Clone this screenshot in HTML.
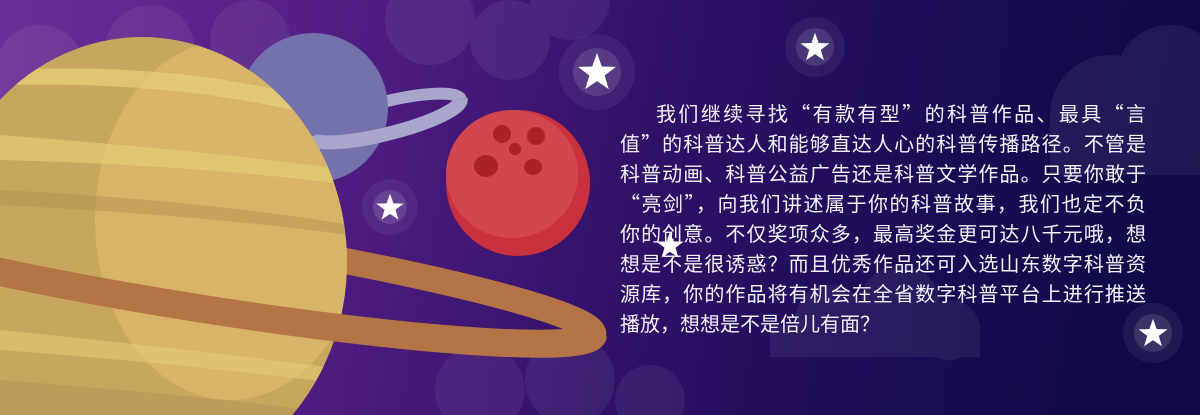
<!DOCTYPE html>
<html><head><meta charset="utf-8"><style>
html,body{margin:0;padding:0;overflow:hidden;width:1200px;height:415px;}
#scene{position:relative;width:1200px;height:415px;overflow:hidden;background:linear-gradient(100deg,#6d2f98 0%,#4e1c80 30%,#2e1066 55%,#170c52 80%,#0e0b45 100%);}
svg{position:absolute;left:0;top:0;}
#text{position:absolute;left:620px;top:98px;width:526px;font-family:"Noto Sans CJK SC","Liberation Sans",sans-serif;font-size:20px;color:#f4f2fa;}
.ln{height:30px;line-height:30px;text-align:justify;text-align-last:justify;white-space:nowrap;overflow:hidden;}
.ln.last{text-align-last:left;}
</style></head><body>
<div id="scene">
<svg width="1200" height="415" viewBox="0 0 1200 415">
  <g fill="#ffffff" opacity="0.06">
    <circle cx="40" cy="70" r="45"/><circle cx="150" cy="50" r="45"/><circle cx="250" cy="40" r="40"/><rect x="0" y="70" width="300" height="60"/>
    <circle cx="430" cy="20" r="45"/><circle cx="510" cy="40" r="40"/><circle cx="570" cy="0" r="40"/>
    <circle cx="1110" cy="115" r="60"/><circle cx="1170" cy="80" r="55"/><rect x="1050" y="110" width="150" height="65"/>
    <circle cx="830" cy="320" r="35"/><circle cx="900" cy="305" r="40"/><circle cx="950" cy="330" r="30"/><rect x="770" y="325" width="210" height="32"/>
    <circle cx="480" cy="390" r="45"/><circle cx="570" cy="380" r="45"/><circle cx="650" cy="400" r="35"/>
  </g>
  <g transform="rotate(-14 385 118)">
    <path d="M307,118 A78,16 0 0 1 463,118" fill="none" stroke="#a9a6cb" stroke-width="12"/>
  </g>
  <circle cx="313" cy="108" r="75" fill="#7472ad"/>
  <g transform="rotate(-14 385 118)">
    <path d="M307,118 A78,16 0 0 0 463,118" fill="none" stroke="#a9a6cb" stroke-width="14"/>
  </g>
  <g>
    <ellipse cx="518" cy="183" rx="72" ry="73" fill="#c9323c"/>
    <ellipse cx="512" cy="174" rx="66" ry="64" fill="#d2474f"/>
    <ellipse cx="502" cy="134" rx="9" ry="9" fill="#a8222a"/>
    <ellipse cx="536" cy="136" rx="9" ry="9" fill="#a8222a"/>
    <ellipse cx="515" cy="149" rx="6" ry="6" fill="#a8222a"/>
    <ellipse cx="486" cy="166" rx="12" ry="11" fill="#a8222a"/>
    <ellipse cx="533" cy="167" rx="9" ry="8" fill="#a8222a"/>
  </g>
  <g transform="rotate(9 200 272)">
    <ellipse cx="200" cy="272" rx="398" ry="36" fill="none" stroke="#b47446" stroke-width="26"/>
  </g>
  <g>
    <ellipse cx="142" cy="262" rx="205" ry="225" fill="#c7a75e"/>
    <clipPath id="sc"><ellipse cx="142" cy="262" rx="205" ry="225"/></clipPath>
    <g clip-path="url(#sc)">
      <ellipse cx="230" cy="220" rx="135" ry="180" fill="#d8b468"/>
      <path d="M0,70 Q200,60 350,110 L350,125 Q200,80 0,85Z" fill="#e8d27a" opacity="0.7"/>
      <path d="M0,135 Q200,150 350,170 L350,185 Q200,165 0,160Z" fill="#e8d27a" opacity="0.6"/>
      <path d="M0,190 Q200,200 350,225 L350,235 Q200,215 0,205Z" fill="#a98a4c" opacity="0.4"/>
      <path d="M0,330 Q200,350 350,370 L350,385 Q200,365 0,350Z" fill="#e8d27a" opacity="0.5"/>
      <path d="M0,380 Q200,395 350,415 L0,415Z" fill="#a98a4c" opacity="0.35"/>
    </g>
  </g>
  <g transform="rotate(9 200 272)">
    <path d="M-198,272 A398,36 0 0 0 598,272" fill="none" stroke="#b47446" stroke-width="28"/>
  </g>
  <g>
    <circle cx="597" cy="72" r="38" fill="#fff" opacity="0.06"/><circle cx="597" cy="72" r="24" fill="#fff" opacity="0.12"/>
    <circle cx="815" cy="47" r="30" fill="#fff" opacity="0.06"/><circle cx="815" cy="47" r="19" fill="#fff" opacity="0.12"/>
    <circle cx="390" cy="207" r="28" fill="#fff" opacity="0.06"/><circle cx="390" cy="207" r="17" fill="#fff" opacity="0.12"/>
    <circle cx="1153" cy="333" r="30" fill="#fff" opacity="0.06"/><circle cx="1153" cy="333" r="19" fill="#fff" opacity="0.12"/>
    <polygon fill="#fff" transform="translate(597,73) scale(1.25)" points="0,-16 3.8,-5.2 15.2,-4.9 6.1,2 9.4,12.9 0,6.5 -9.4,12.9 -6.1,2 -15.2,-4.9 -3.8,-5.2"/>
    <polygon fill="#fff" transform="translate(815,48) scale(0.95)" points="0,-16 3.8,-5.2 15.2,-4.9 6.1,2 9.4,12.9 0,6.5 -9.4,12.9 -6.1,2 -15.2,-4.9 -3.8,-5.2"/>
    <polygon fill="#fff" transform="translate(390,208) scale(0.9)" points="0,-16 3.8,-5.2 15.2,-4.9 6.1,2 9.4,12.9 0,6.5 -9.4,12.9 -6.1,2 -15.2,-4.9 -3.8,-5.2"/>
    <polygon fill="#fff" transform="translate(1153,334) scale(0.95)" points="0,-16 3.8,-5.2 15.2,-4.9 6.1,2 9.4,12.9 0,6.5 -9.4,12.9 -6.1,2 -15.2,-4.9 -3.8,-5.2"/>
    <polygon fill="#fff" transform="translate(670,246) scale(0.9)" points="0,-16 3.8,-5.2 15.2,-4.9 6.1,2 9.4,12.9 0,6.5 -9.4,12.9 -6.1,2 -15.2,-4.9 -3.8,-5.2"/>
  </g>
</svg>
<div id="text">
  <div class="ln" style="padding-left:36px">我们继续寻找“有款有型”的科普作品、最具“言</div>
  <div class="ln">值”的科普达人和能够直达人心的科普传播路径。不管是</div>
  <div class="ln">科普动画、科普公益广告还是科普文学作品。只要你敢于</div>
  <div class="ln">“亮剑”，向我们讲述属于你的科普故事，我们也定不负</div>
  <div class="ln">你的创意。不仅奖项众多，最高奖金更可达八千元哦，想</div>
  <div class="ln">想是不是很诱惑？而且优秀作品还可入选山东数字科普资</div>
  <div class="ln">源库，你的作品将有机会在全省数字科普平台上进行推送</div>
  <div class="ln last">播放，想想是不是倍儿有面？</div>
</div>
</div>
</body></html>
